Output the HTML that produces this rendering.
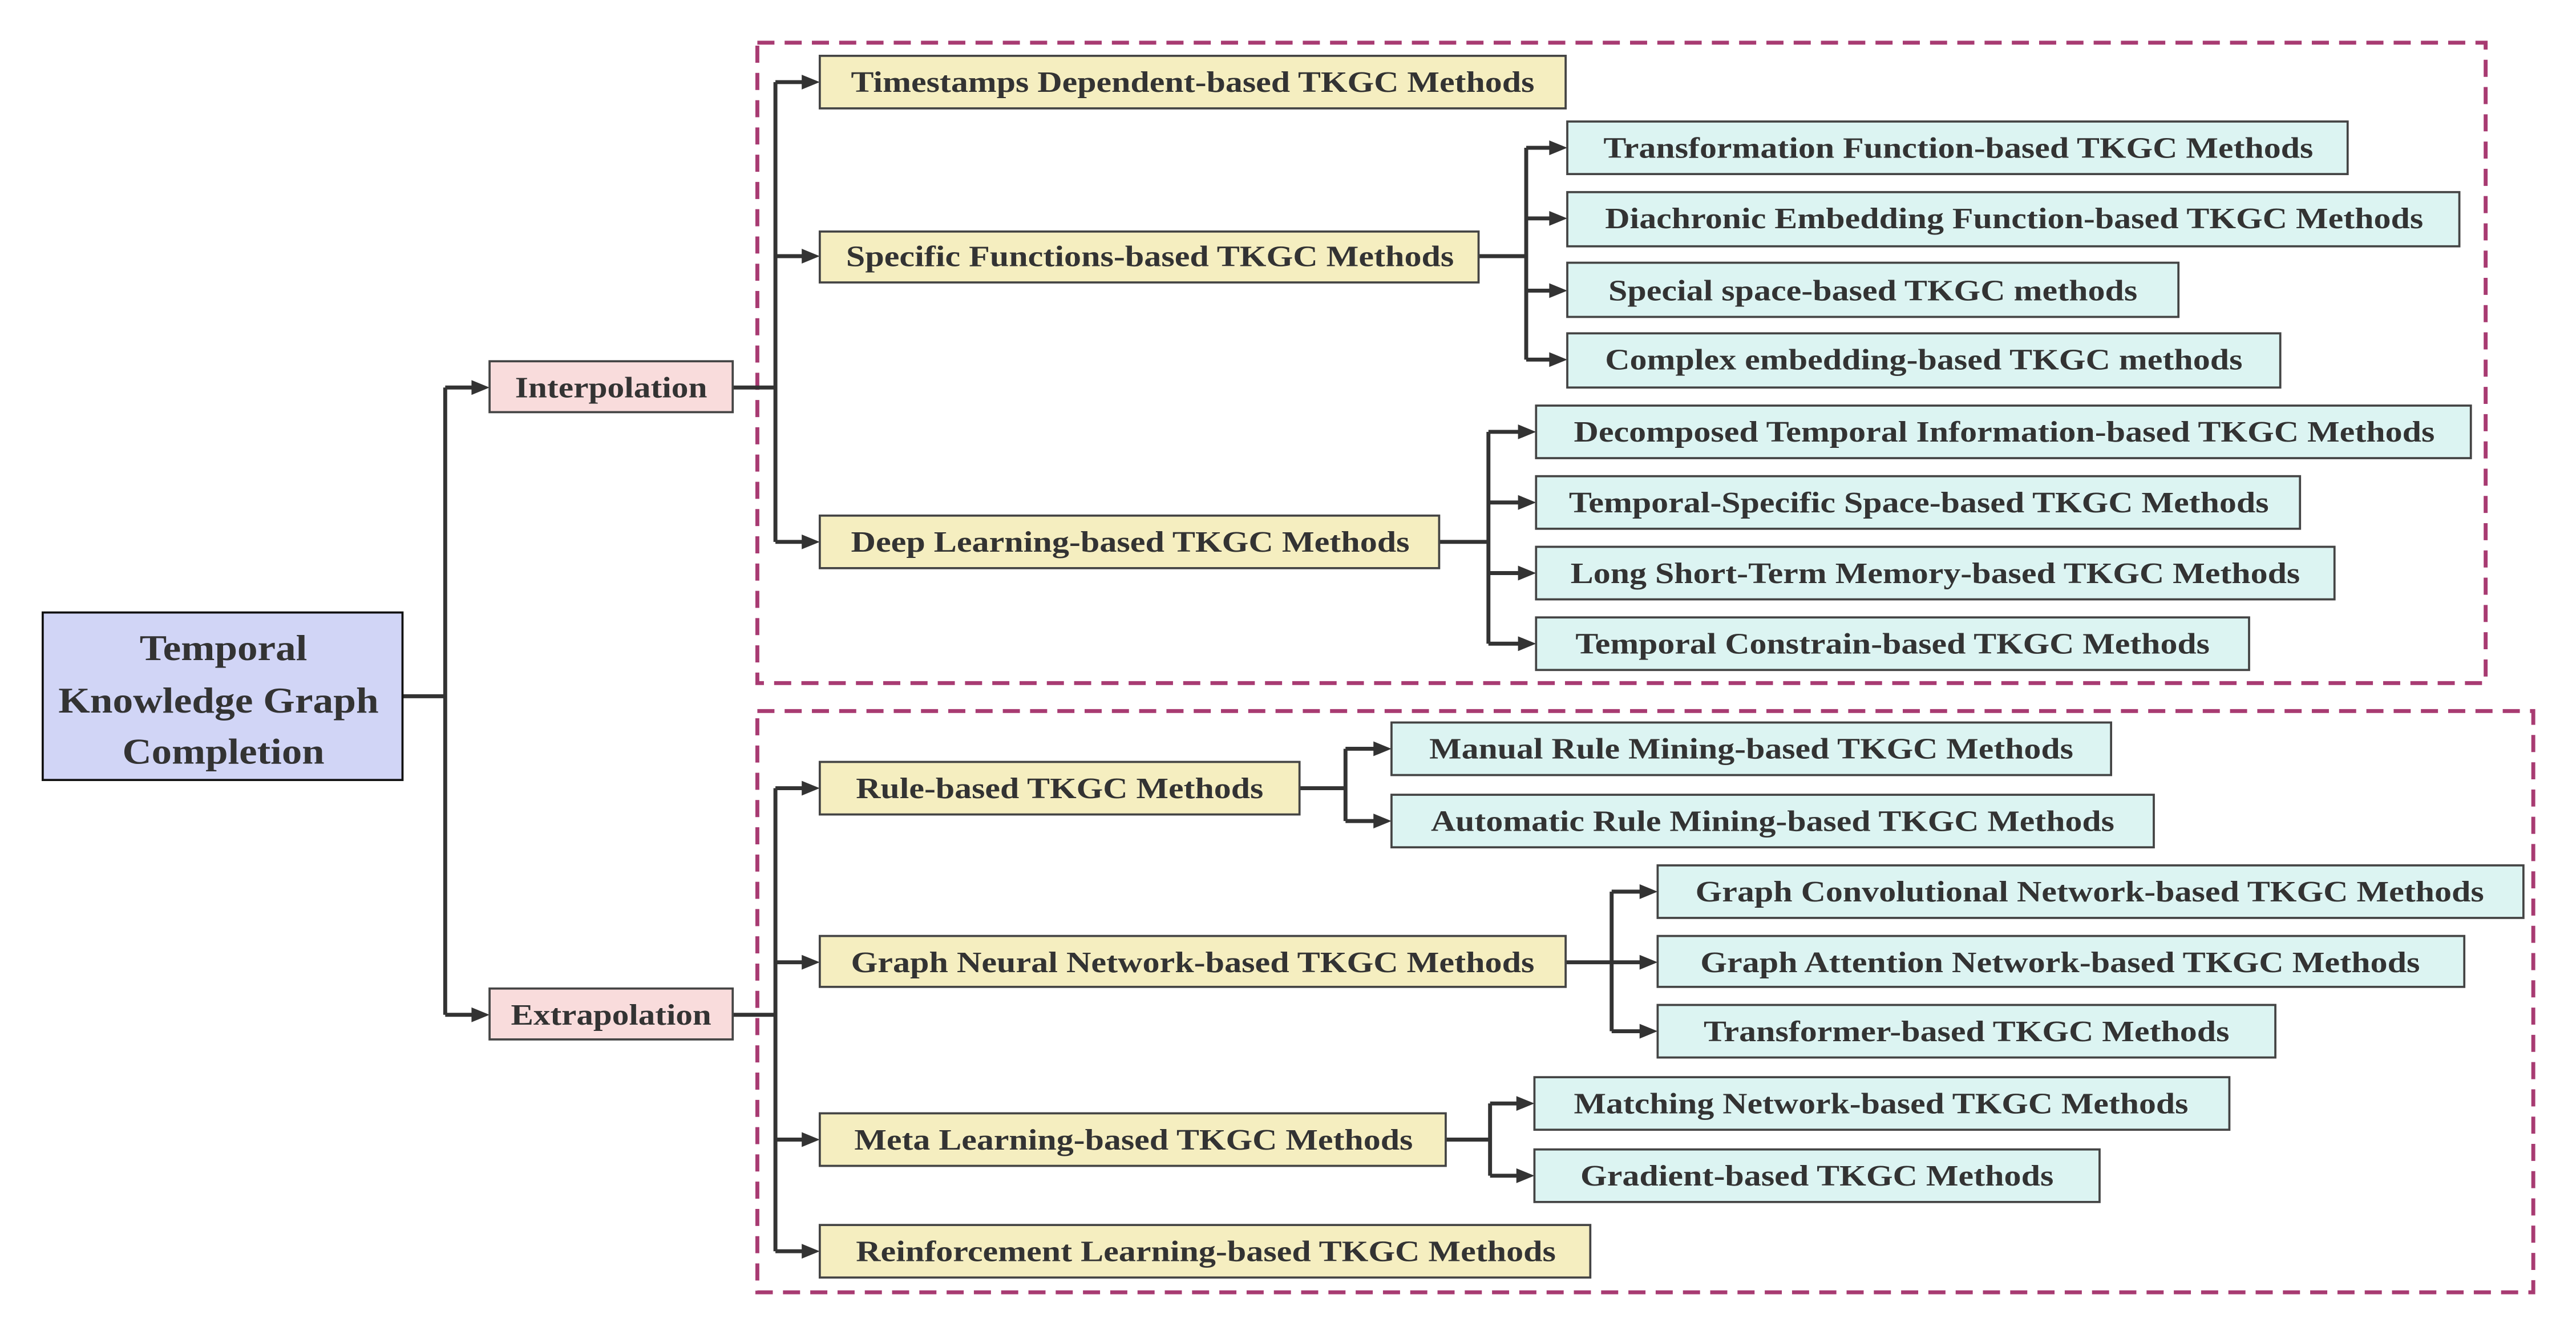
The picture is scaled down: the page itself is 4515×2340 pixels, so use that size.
<!DOCTYPE html>
<html><head><meta charset="utf-8"><style>
html,body{margin:0;padding:0;background:#fff;}
svg{display:block;}
text{font-family:"Liberation Serif",serif;font-weight:bold;fill:#333;}
</style></head><body>
<svg width="4515" height="2340" viewBox="0 0 1568 813" preserveAspectRatio="none" xmlns="http://www.w3.org/2000/svg">
<rect x="461" y="26" width="1052" height="390" fill="none" stroke="#a83b72" stroke-width="2.4" stroke-dasharray="10.4,6.2"/>
<rect x="461" y="433" width="1081" height="354" fill="none" stroke="#a83b72" stroke-width="2.4" stroke-dasharray="10.4,6.2"/>

<g fill="none" stroke="#333" stroke-width="2.4">
<path d="M245 424H271M271 236V618M271 236H290M271 618H290"/>
<path d="M446 236H472M472 50V330M472 50H491M472 156H491M472 330H491"/>
<path d="M446 618H472M472 480V762M472 480H491M472 586H491M472 694H491M472 762H491"/>
<path d="M900 156H929M929 90V219M929 90H946M929 133H946M929 177H946M929 219H946"/>
<path d="M876 330H906M906 263V392M906 263H927M906 306H927M906 349H927M906 392H927"/>
<path d="M791 480H819M819 456V500M819 456H839M819 500H839"/>
<path d="M953 586H981M981 543V628M981 543H1001M981 586H1001M981 628H1001"/>
<path d="M880 694H907M907 672V716M907 672H926M907 716H926"/>
</g>
<g fill="#333">
<polygon points="287,231.5 298,236 287,240.5"/><polygon points="287,613.5 298,618 287,622.5"/>
<polygon points="488,45.5 499,50 488,54.5"/><polygon points="488,151.5 499,156 488,160.5"/><polygon points="488,325.5 499,330 488,334.5"/>
<polygon points="488,475.5 499,480 488,484.5"/><polygon points="488,581.5 499,586 488,590.5"/><polygon points="488,689.5 499,694 488,698.5"/><polygon points="488,757.5 499,762 488,766.5"/>
<polygon points="943,85.5 954,90 943,94.5"/><polygon points="943,128.5 954,133 943,137.5"/><polygon points="943,172.5 954,177 943,181.5"/><polygon points="943,214.5 954,219 943,223.5"/>
<polygon points="924,258.5 935,263 924,267.5"/><polygon points="924,301.5 935,306 924,310.5"/><polygon points="924,344.5 935,349 924,353.5"/><polygon points="924,387.5 935,392 924,396.5"/>
<polygon points="836,451.5 847,456 836,460.5"/><polygon points="836,495.5 847,500 836,504.5"/>
<polygon points="998,538.5 1009,543 998,547.5"/><polygon points="998,581.5 1009,586 998,590.5"/><polygon points="998,623.5 1009,628 998,632.5"/>
<polygon points="923,667.5 934,672 923,676.5"/><polygon points="923,711.5 934,716 923,720.5"/>
</g>

<rect x="26" y="373" width="219" height="102" fill="#d1d5f6" stroke="#111" stroke-width="1.3"/>
<text x="136" y="402" font-size="22" text-anchor="middle" textLength="102" lengthAdjust="spacingAndGlyphs">Temporal</text>
<text x="133" y="434" font-size="22" text-anchor="middle" textLength="195" lengthAdjust="spacingAndGlyphs">Knowledge Graph</text>
<text x="136" y="465" font-size="22" text-anchor="middle" textLength="123" lengthAdjust="spacingAndGlyphs">Completion</text>

<g stroke="#444" stroke-width="1.3">
<rect x="298" y="220" width="148" height="31" fill="#f9dcdc"/>
<rect x="298" y="602" width="148" height="31" fill="#f9dcdc"/>
<g fill="#f5eec0">
<rect x="499" y="34" width="454" height="32"/>
<rect x="499" y="141" width="401" height="31"/>
<rect x="499" y="314" width="377" height="32"/>
<rect x="499" y="464" width="292" height="32"/>
<rect x="499" y="570" width="454" height="31"/>
<rect x="499" y="678" width="381" height="32"/>
<rect x="499" y="746" width="469" height="32"/>
</g>
<g fill="#dcf4f2">
<rect x="954" y="74" width="475" height="32"/>
<rect x="954" y="117" width="543" height="33"/>
<rect x="954" y="160" width="372" height="33"/>
<rect x="954" y="203" width="434" height="33"/>
<rect x="935" y="247" width="569" height="32"/>
<rect x="935" y="290" width="465" height="32"/>
<rect x="935" y="333" width="486" height="32"/>
<rect x="935" y="376" width="434" height="32"/>
<rect x="847" y="440" width="438" height="32"/>
<rect x="847" y="484" width="464" height="32"/>
<rect x="1009" y="527" width="527" height="32"/>
<rect x="1009" y="570" width="491" height="31"/>
<rect x="1009" y="612" width="376" height="32"/>
<rect x="934" y="656" width="423" height="32"/>
<rect x="934" y="700" width="344" height="32"/>
</g>
</g>

<g font-size="18" text-anchor="middle">
<text x="372" y="242" textLength="117" lengthAdjust="spacingAndGlyphs">Interpolation</text>
<text x="372" y="624" textLength="122" lengthAdjust="spacingAndGlyphs">Extrapolation</text>
<text x="726" y="56" textLength="416" lengthAdjust="spacingAndGlyphs">Timestamps Dependent-based TKGC Methods</text>
<text x="700" y="162" textLength="370" lengthAdjust="spacingAndGlyphs">Specific Functions-based TKGC Methods</text>
<text x="688" y="336" textLength="340" lengthAdjust="spacingAndGlyphs">Deep Learning-based TKGC Methods</text>
<text x="645" y="486" textLength="248" lengthAdjust="spacingAndGlyphs">Rule-based TKGC Methods</text>
<text x="726" y="592" textLength="416" lengthAdjust="spacingAndGlyphs">Graph Neural Network-based TKGC Methods</text>
<text x="690" y="700" textLength="340" lengthAdjust="spacingAndGlyphs">Meta Learning-based TKGC Methods</text>
<text x="734" y="768" textLength="426" lengthAdjust="spacingAndGlyphs">Reinforcement Learning-based TKGC Methods</text>
<text x="1192" y="96" textLength="432" lengthAdjust="spacingAndGlyphs">Transformation Function-based TKGC Methods</text>
<text x="1226" y="139" textLength="498" lengthAdjust="spacingAndGlyphs">Diachronic Embedding Function-based TKGC Methods</text>
<text x="1140" y="183" textLength="322" lengthAdjust="spacingAndGlyphs">Special space-based TKGC methods</text>
<text x="1171" y="225" textLength="388" lengthAdjust="spacingAndGlyphs">Complex embedding-based TKGC methods</text>
<text x="1220" y="269" textLength="524" lengthAdjust="spacingAndGlyphs">Decomposed Temporal Information-based TKGC Methods</text>
<text x="1168" y="312" textLength="426" lengthAdjust="spacingAndGlyphs">Temporal-Specific Space-based TKGC Methods</text>
<text x="1178" y="355" textLength="444" lengthAdjust="spacingAndGlyphs">Long Short-Term Memory-based TKGC Methods</text>
<text x="1152" y="398" textLength="386" lengthAdjust="spacingAndGlyphs">Temporal Constrain-based TKGC Methods</text>
<text x="1066" y="462" textLength="392" lengthAdjust="spacingAndGlyphs">Manual Rule Mining-based TKGC Methods</text>
<text x="1079" y="506" textLength="416" lengthAdjust="spacingAndGlyphs">Automatic Rule Mining-based TKGC Methods</text>
<text x="1272" y="549" textLength="480" lengthAdjust="spacingAndGlyphs">Graph Convolutional Network-based TKGC Methods</text>
<text x="1254" y="592" textLength="438" lengthAdjust="spacingAndGlyphs">Graph Attention Network-based TKGC Methods</text>
<text x="1197" y="634" textLength="320" lengthAdjust="spacingAndGlyphs">Transformer-based TKGC Methods</text>
<text x="1145" y="678" textLength="374" lengthAdjust="spacingAndGlyphs">Matching Network-based TKGC Methods</text>
<text x="1106" y="722" textLength="288" lengthAdjust="spacingAndGlyphs">Gradient-based TKGC Methods</text>
</g>
</svg>
</body></html>
